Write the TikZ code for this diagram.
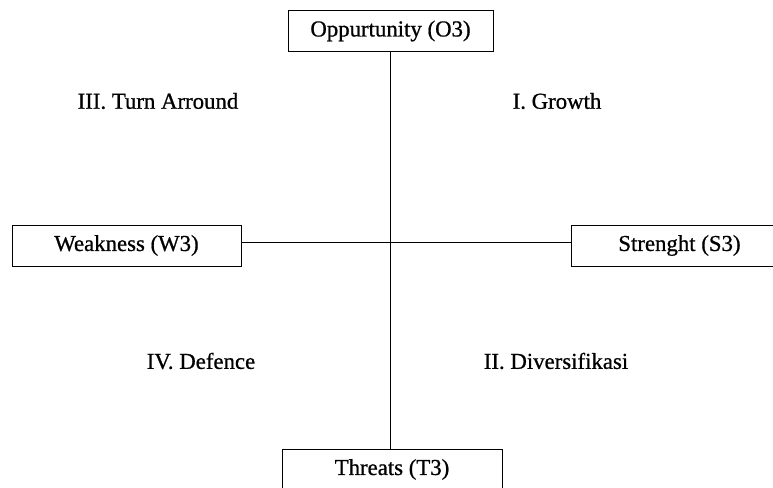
\documentclass[tikz,border=0pt]{standalone}
\usepackage{fontspec}
\setmainfont[FakeBold=0.8]{Liberation Serif}
\begin{document}
\begin{tikzpicture}[x=1pt,y=-1pt,
  swot/.style={draw, line width=0.9pt, inner sep=0pt, minimum height=41pt, font=\fontsize{22.8}{26}\selectfont},
  quad/.style={inner sep=0pt, font=\fontsize{22.8}{26}\selectfont},
  axis/.style={line width=0.9pt}]
\useasboundingbox (0,0) rectangle (773,487);
\node[swot, minimum width=205pt] (O) at (390.5,31) {Oppurtunity (O3)};
\node[swot, minimum width=229pt] (W) at (126.5,245.5) {Weakness (W3)};
\node[swot, minimum width=216pt, anchor=west] (S) at (571,245.5) {Strenght (S3)};
\node[swot, minimum width=220pt] (T) at (392,469.5) {Threats (T3)};
\draw[axis] (O.south) -- (O.south |- T.north);
\draw[axis] ([yshift=3.5pt]W.east) -- ([yshift=3.5pt]S.west);
\node[quad] (q3) at (158,101) {III. Turn Arround};
\node[quad] (q1) at (557,101) {I. Growth};
\node[quad] (q4) at (201,361) {IV. Defence};
\node[quad] (q2) at (556,361) {II. Diversifikasi};
\end{tikzpicture}
\end{document}
